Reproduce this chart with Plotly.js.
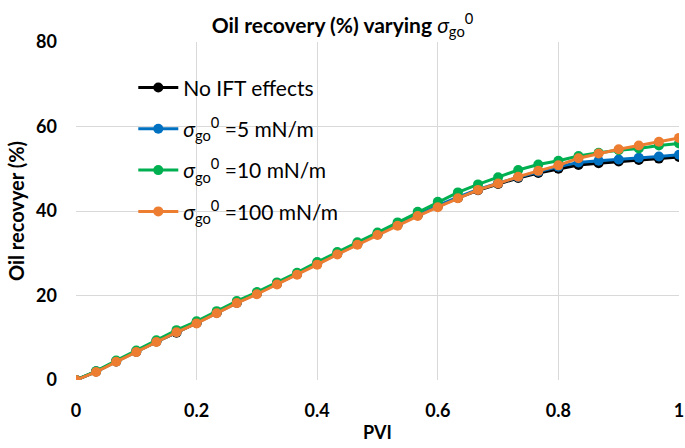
<!DOCTYPE html>
<html><head><meta charset="utf-8">
<script src="https://cdn.plot.ly/plotly-3.0.1.min.js"></script>
<style>body{margin:0;background:#fff}#chart{width:685px;height:448px}</style>
</head><body><div id="chart"></div>
<script>
const pvi = [0,1/30,2/30,3/30,4/30,5/30,6/30,7/30,8/30,9/30,10/30,11/30,12/30,13/30,14/30,15/30,16/30,17/30,18/30,19/30,20/30,21/30,22/30,23/30,24/30,25/30,26/30,27/30,28/30,29/30,1];
const noIFT = [0,2.0,4.4,6.7,9.1,11.2,13.5,15.9,18.3,20.5,22.8,25.1,27.5,29.9,32.2,34.5,36.8,39.0,41.1,43.1,44.9,46.4,47.8,49.0,50.0,50.9,51.3,51.7,52.1,52.4,52.8];
const s5 = [0,2.0,4.4,6.7,9.1,11.3,13.5,15.9,18.3,20.5,22.8,25.1,27.5,29.9,32.2,34.5,36.8,39.1,41.3,43.3,45.1,46.6,48.0,49.3,50.5,51.5,51.9,52.2,52.6,52.9,53.3];
const s10 = [0,2.1,4.6,7.0,9.4,11.8,13.9,16.3,18.7,20.8,23.1,25.4,27.9,30.3,32.6,34.9,37.3,39.8,42.2,44.4,46.3,48.0,49.7,51.0,51.9,53.0,53.8,54.4,54.8,55.5,56.0];
const s100 = [0,1.9,4.3,6.6,9.0,11.3,13.4,15.8,18.2,20.3,22.6,24.9,27.3,29.7,32.0,34.3,36.5,38.8,40.9,43.0,45.0,46.5,48.1,49.5,50.8,52.5,53.6,54.6,55.5,56.4,57.3];
const names = ["No IFT effects","<i>σ</i><sub>go</sub><sup>0</sup> =5 mN/m","<i>σ</i><sub>go</sub><sup>0</sup> =10 mN/m","<i>σ</i><sub>go</sub><sup>0</sup> =100 mN/m"];
const colors = ["#000000","#0070c0","#00b050","#ed7d31"];
const series = [noIFT, s5, s10, s100];
const traces = series.map((y,i)=>({
  x: pvi, y: y, name: names[i], legendgroup:'g'+i, type:'scatter', mode:'lines+markers',
  line:{color:colors[i], width:3}, marker:{color:colors[i], size:10}
}));
const layout = {
  width:685, height:448,
  margin:{l:76, r:6, t:42, b:68},
  paper_bgcolor:'#fff', plot_bgcolor:'#fff',
  font:{family:'Lato, "Open Sans", sans-serif', color:'#000'},
  title:{text:'<b>Oil recovery (%) varying </b><i>σ</i><sub>go</sub><sup>0</sup>', x:0.5, xanchor:'center', y:0.96, yanchor:'top', font:{size:21}},
  xaxis:{range:[0,1], dtick:0.2, tick0:0, showgrid:true, gridcolor:'#d9d9d9', gridwidth:1, zeroline:false, showline:false,
    tickfont:{size:18, weight:'bold'}, ticks:'', ticklabelstandoff:18,
    title:{text:'<b>PVI</b>', font:{size:18}, standoff:6}},
  yaxis:{range:[0,80], dtick:20, showgrid:true, gridcolor:'#d9d9d9', gridwidth:1, zeroline:false, showline:false,
    tickfont:{size:18, weight:'bold'}, ticks:'', ticklabelstandoff:18,
    title:{text:'<b>Oil recovyer (%)</b>', font:{size:20}, standoff:6}},
  showlegend:true,
  legend:{x:0.095, y:0.925, xanchor:'left', yanchor:'top', bgcolor:'rgba(0,0,0,0)', font:{size:21}, itemwidth:40, tracegroupgap:11}
};
Plotly.newPlot('chart', traces, layout, {displayModeBar:false, staticPlot:true});
</script></body></html>
